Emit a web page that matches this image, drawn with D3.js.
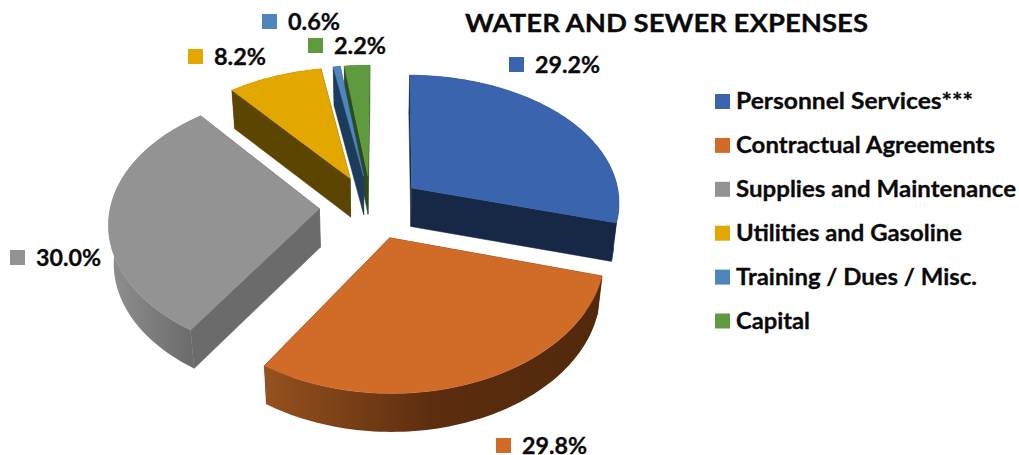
<!DOCTYPE html>
<html>
<head>
<meta charset="utf-8">
<script src="https://cdn.jsdelivr.net/npm/d3@7/dist/d3.min.js"></script>
<style>
html,body{margin:0;padding:0;background:#fff}
svg{display:block}
text{font-family:Lato,"Open Sans",sans-serif;font-weight:700;fill:#0a0a0a;stroke:#0a0a0a;stroke-width:0.3px}
</style>
</head>
<body>
<svg id="chart" width="1019" height="455"></svg>
<script>
const title = "WATER AND SEWER EXPENSES";
const categories = ["Personnel Services***","Contractual Agreements","Supplies and Maintenance","Utilities and Gasoline","Training / Dues / Misc.","Capital"];
const values = [29.2,29.8,30.0,8.2,0.6,2.2];
const topColors = ["#3a64ad","#d06c28","#939393","#e3a800","#4d86bd","#5f9a3f"];
const sideColors = ["#162845","#54290c","#6b6b6b","#5c4500","#1d3c5c","#2d4a1f"];

const W = 1019, H = 455;
const svg = d3.select("#chart");
const defs = svg.append("defs");

// 3D view parameters
const cx = 371, cy = 207, A = 209, B = 130, perspX = 0.1, perspY = 0.115, explode = 0.247, depth = 38.5, shrink = 0.98;
const rotation = 0.5 * Math.PI / 180;
const sx = d3.scaleLinear().domain([-1,1]).range([cx-A,cx+A]);
const sy = d3.scaleLinear().domain([-1,1]).range([cy+B,cy-B]);
const project = (X,Y) => [sx(X/(1+perspX*Y)), sy(Y/(1+perspY*Y))];

const pie = d3.pie().sort(null).value(d=>d).startAngle(rotation).endAngle(rotation+2*Math.PI);
const arcs = pie(values);
const line = d3.line();

function sliceGeom(a){
  const mid = (a.startAngle+a.endAngle)/2;
  const ox = explode*Math.sin(mid), oy = explode*Math.cos(mid);
  const apex = project(ox,oy);
  const n = Math.max(4, Math.ceil((a.endAngle-a.startAngle)*40));
  const rim = d3.range(n+1).map(i=>{
    const t = a.startAngle+(a.endAngle-a.startAngle)*i/n;
    return project(ox+Math.sin(t), oy+Math.cos(t));
  });
  return {apex, rim};
}
const down = p => [cx+(p[0]-cx)*shrink, p[1]+depth];
const extrude = pts => pts.concat(pts.slice().reverse().map(down));

// gradients on the rim of the two slices that show shading
const gradSpecs = {1:[["0","#96511f"],["0.5","#5c2d0e"],["1","#52290c"]], 2:[["0","#909090"],["1","#666666"]]};
Object.entries(gradSpecs).forEach(([i,stops])=>{
  const g = defs.append("linearGradient").attr("id","rim"+i).attr("x1",0).attr("x2",1).attr("y1",0).attr("y2",0);
  stops.forEach(s=>g.append("stop").attr("offset",s[0]).attr("stop-color",s[1]));
});

// painter's order: back to front
const order = [5,4,3,0,2,1];
order.forEach(i=>{
  const g = svg.append("g").attr("class","slice");
  const {apex,rim} = sliceGeom(arcs[i]);
  const first = rim[0], last = rim[rim.length-1];
  [[apex,first],[apex,last]].forEach(edge=>{
    g.append("path").attr("d",line(extrude(edge))+"Z").attr("fill",sideColors[i]).attr("stroke",sideColors[i]).attr("stroke-width",0.5);
  });
  g.append("path").attr("d",line(extrude(rim))+"Z")
    .attr("fill",gradSpecs[i]?`url(#rim${i})`:sideColors[i]);
  g.append("path").attr("d",line([apex].concat(rim))+"Z").attr("fill",topColors[i]).attr("stroke",topColors[i]).attr("stroke-width",0.5);
});

// title
svg.append("text").attr("x",465).attr("y",32).attr("font-size",25.5)
  .attr("textLength",403).attr("lengthAdjust","spacingAndGlyphs").text(title);

// legend
const legendWidths = [237,259,280,226,241,74];
const legendY = d3.scalePoint().domain(categories).range([101.5,321]);
const legend = svg.append("g").selectAll("g").data(categories).join("g")
  .attr("transform",d=>`translate(715,${legendY(d)})`);
legend.append("rect").attr("x",0).attr("y",-7.5).attr("width",15).attr("height",15).attr("fill",(d,i)=>topColors[i]);
legend.append("text").attr("x",21).attr("y",7.5).attr("font-size",22.5)
  .attr("textLength",(d,i)=>legendWidths[i]).attr("lengthAdjust","spacingAndGlyphs").text(d=>d);

// data labels
const labelPos = [[509,57],[496,438],[10,250],[188,49],[262,14],[308,38]];
const labels = svg.append("g").selectAll("g").data(values).join("g")
  .attr("transform",(d,i)=>`translate(${labelPos[i][0]},${labelPos[i][1]})`);
labels.append("rect").attr("width",15).attr("height",15).attr("fill",(d,i)=>topColors[i]);
labels.append("text").attr("x",26).attr("y",16).attr("font-size",22.5)
  .attr("textLength",(d,i)=>i===3||i===4||i===5?52:65).attr("lengthAdjust","spacingAndGlyphs").text(d=>d.toFixed(1)+"%");
</script>
</body>
</html>
